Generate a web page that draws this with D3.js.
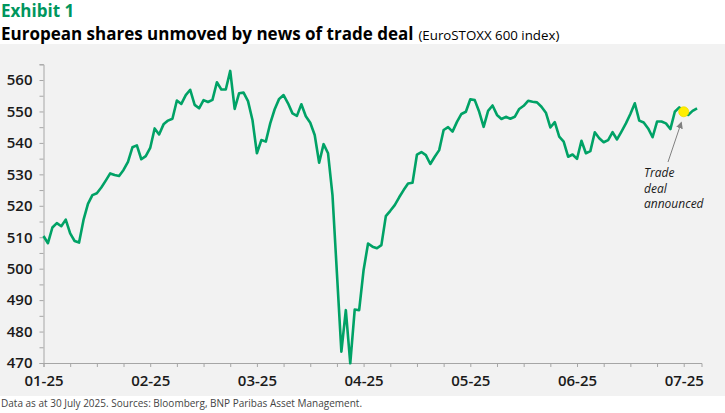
<!DOCTYPE html>
<html>
<head>
<meta charset="utf-8">
<script src="https://cdn.jsdelivr.net/npm/d3@7"></script>
<style>
  body { margin: 0; background: #fff; }
  svg text { font-family: "Open Sans", sans-serif; }
</style>
</head>
<body>
<div id="chart"></div>
<script>
// EuroSTOXX 600, daily closes, Jan - 30 Jul 2025
var values = [
  510.4, 508.1, 513.1, 514.5, 513.5, 515.6, 511.2, 508.8, 508.3, 515.5,
  520.6, 523.4, 524.0, 525.8, 528.0, 530.3, 529.8, 529.5, 531.4, 534.0,
  538.6, 539.2, 534.8, 535.8, 538.4, 544.6, 542.7, 545.9, 547.1, 547.7,
  553.5, 552.4, 555.2, 556.9, 552.1, 551.0, 553.6, 553.0, 553.7, 559.3,
  557.0, 557.0, 562.9, 550.8, 555.8, 556.0, 553.3, 547.3, 536.7, 540.9,
  540.4, 546.2, 550.7, 554.0, 555.2, 552.6, 549.4, 548.6, 552.3, 548.5,
  546.4, 542.5, 533.7, 539.6, 536.7, 523.4, 498.5, 473.6, 486.8, 469.9,
  487.0, 486.8, 499.6, 508.0, 507.0, 506.5, 507.5, 516.7, 518.4, 520.2,
  522.7, 525.0, 527.1, 527.3, 536.3, 537.1, 536.1, 533.3, 535.6, 537.7,
  544.1, 545.0, 543.6, 546.7, 549.2, 549.9, 553.9, 553.6, 549.9, 545.1,
  550.2, 551.9, 548.9, 547.6, 548.3, 547.7, 548.3, 550.8, 551.8, 553.4,
  553.1, 552.9, 551.5, 549.6, 544.9, 546.6, 542.0, 540.4, 535.6, 536.3,
  534.9, 540.7, 536.7, 537.4, 543.4, 541.5, 540.2, 540.9, 543.4, 541.1,
  543.6, 546.2, 549.2, 552.6, 547.1, 546.5, 544.6, 541.8, 546.8, 546.8,
  546.2, 544.4, 549.9, 551.3, 549.9, 548.9, 550.2, 551.0
];
var monthLabels = ["01-25", "02-25", "03-25", "04-25", "05-25", "06-25", "07-25"];
var yTicks = [470, 480, 490, 500, 510, 520, 530, 540, 550, 560];
var dealIndex = 144;          // trade deal announced
var noteLines = ["Trade", "deal", "announced"];

var width = 725, height = 413;
var green = "#00a266";

var svg = d3.select("#chart").append("svg")
  .attr("width", width)
  .attr("height", height);

// grey panel behind the chart
svg.append("rect")
  .attr("x", 0).attr("y", 44)
  .attr("width", width).attr("height", 352)
  .attr("fill", "#f2f2f2");

// titles
svg.append("text")
  .attr("x", 1).attr("y", 17)
  .attr("font-size", 17).attr("font-weight", 700)
  .attr("fill", "#00965e")
  .text("Exhibit 1");

var title = svg.append("text")
  .attr("x", 1).attr("y", 40)
  .attr("font-size", 17).attr("font-weight", 700)
  .attr("fill", "#000");
title.append("tspan").text("European shares unmoved by news of trade deal");
title.append("tspan").attr("font-size", 13.3).attr("font-weight", 400)
  .attr("dx", 5).text("(EuroSTOXX 600 index)");

svg.append("text")
  .attr("x", 1).attr("y", 407)
  .attr("font-size", 10).attr("fill", "#444")
  .text("Data as at 30 July 2025. Sources: Bloomberg, BNP Paribas Asset Management.");

// scales
var x = d3.scaleLinear().domain([0, 148]).range([43.5, 701.5]);
var y = d3.scaleLinear().domain([470, 565]).range([363, 64.3]);

// y axis
var yAxis = svg.append("g").attr("transform", "translate(43.5,0)")
  .call(d3.axisLeft(y)
    .tickValues(d3.range(470, 566, 5))
    .tickSize(4)
    .tickFormat(function (d) { return yTicks.indexOf(d) >= 0 ? d : ""; }));
yAxis.select(".domain").attr("stroke", "#a6a6a6");
yAxis.selectAll(".tick line").attr("stroke", "#a6a6a6");
yAxis.selectAll(".tick text")
  .attr("x", -11)
  .attr("font-size", 15).attr("font-weight", 600)
  .attr("fill", "#1a1a1a")
  .attr("font-family", "Open Sans");

// x axis
var xAxis = svg.append("g").attr("transform", "translate(0,363)")
  .call(d3.axisBottom(x)
    .tickValues(d3.range(0, 145, 6))
    .tickSizeOuter(0)
    .tickSize(4)
    .tickFormat(function (d) { return d % 24 === 0 ? monthLabels[d / 24] : ""; }));
xAxis.select(".domain").attr("stroke", "#a6a6a6");
xAxis.selectAll(".tick line").attr("stroke", "#a6a6a6");
xAxis.selectAll(".tick text")
  .attr("y", 12)
  .attr("font-size", 15).attr("font-weight", 600)
  .attr("fill", "#1a1a1a")
  .attr("font-family", "Open Sans");

// the line
var line = d3.line()
  .x(function (d, i) { return x(i); })
  .y(function (d) { return y(d); });

svg.append("path")
  .datum(values)
  .attr("d", line)
  .attr("fill", "none")
  .attr("stroke", green)
  .attr("stroke-width", 2.6)
  .attr("stroke-linejoin", "round");

// annotation arrow + note
svg.append("defs").append("marker")
  .attr("id", "head")
  .attr("viewBox", "0 0 10 10")
  .attr("refX", 8).attr("refY", 5)
  .attr("markerWidth", 7).attr("markerHeight", 7)
  .attr("orient", "auto")
  .append("path")
  .attr("d", "M0,0 L10,5 L0,10 z")
  .attr("fill", "#808080");

svg.append("line")
  .attr("x1", 668).attr("y1", 162)
  .attr("x2", x(dealIndex) - 2.5).attr("y2", y(values[dealIndex]) + 11)
  .attr("stroke", "#808080").attr("stroke-width", 1)
  .attr("marker-end", "url(#head)");

svg.append("text")
  .attr("x", 644).attr("y", 177)
  .attr("font-size", 12).attr("font-style", "italic")
  .attr("fill", "#1a1a1a")
  .selectAll("tspan").data(noteLines).enter().append("tspan")
  .attr("x", 644)
  .attr("dy", function (d, i) { return i ? 15.5 : 0; })
  .text(function (d) { return d; });

svg.append("circle")
  .attr("cx", x(dealIndex))
  .attr("cy", y(values[dealIndex]))
  .attr("r", 5)
  .attr("fill", "#ffee00")
  .attr("stroke", "#f0dc00")
  .attr("stroke-width", 0.8);
</script>
</body>
</html>
